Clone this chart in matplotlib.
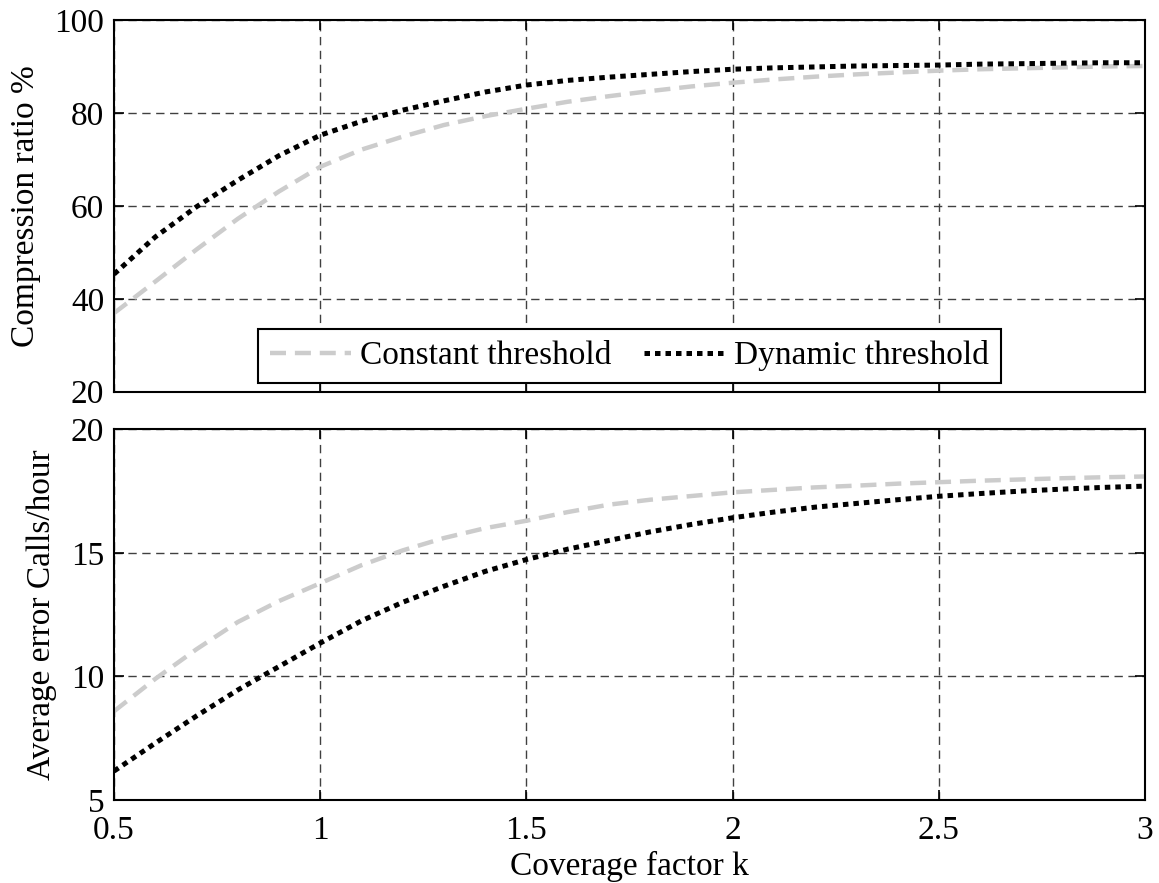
import matplotlib
matplotlib.use("Agg")
import matplotlib.pyplot as plt

plt.rcParams["font.family"] = ["Liberation Serif", "DejaVu Serif"]
plt.rcParams["mathtext.fontset"] = "stix"

# Coverage factor k
k = [0.5, 0.6, 0.7, 0.8, 0.9, 1.0, 1.1, 1.2, 1.3, 1.4, 1.5, 1.6, 1.7,
     1.8, 1.9, 2.0, 2.1, 2.2, 2.3, 2.4, 2.5, 2.6, 2.7, 2.8, 2.9, 3.0]

# Compression ratio (%)
ratio_constant = [36.9, 43.7, 50.6, 57.2, 63.1, 68.4, 72.1, 74.9, 77.4, 79.3,
                  80.9, 82.4, 83.6, 84.7, 85.7, 86.5, 87.2, 87.8, 88.3, 88.7,
                  89.1, 89.4, 89.6, 89.8, 90.0, 90.1]
ratio_dynamic = [45.3, 53.3, 59.8, 65.5, 70.8, 75.2, 78.2, 80.6, 82.6, 84.5,
                 86.0, 87.0, 87.7, 88.3, 88.9, 89.4, 89.7, 89.9, 90.1, 90.2,
                 90.3, 90.5, 90.6, 90.7, 90.8, 90.8]

# Average error (calls/hour)
error_constant = [8.59, 9.9, 11.1, 12.2, 13.05, 13.77, 14.5, 15.1, 15.6, 16.0,
                  16.3, 16.65, 16.95, 17.15, 17.3, 17.45, 17.55, 17.65, 17.72,
                  17.8, 17.86, 17.92, 17.97, 18.02, 18.06, 18.09]
error_dynamic = [6.17, 7.3, 8.4, 9.45, 10.4, 11.35, 12.25, 13.0, 13.65, 14.25,
                 14.73, 15.15, 15.5, 15.85, 16.15, 16.42, 16.65, 16.85, 17.0,
                 17.15, 17.29, 17.4, 17.5, 17.58, 17.65, 17.70]

labels = ["Constant threshold", "Dynamic threshold"]
x_ticks = [0.5, 1, 1.5, 2, 2.5, 3]
x_ticklabels = ["0.5", "1", "1.5", "2", "2.5", "3"]

FS = 24
W, H = 1159, 883
fig = plt.figure(figsize=(W / 100, H / 100), dpi=100)

def frac(l, t, r, b):
    return [l / W, 1 - b / H, (r - l) / W, (b - t) / H]

ax1 = fig.add_axes(frac(114, 20, 1145, 391.7))
ax2 = fig.add_axes(frac(114, 429.3, 1145, 800))

def draw(ax, yc, yd):
    lc, = ax.plot(k, yc, color="#cccccc", lw=3.2, label=labels[0],
                  solid_capstyle="butt", dash_capstyle="butt")
    lc.set_dashes((3.6, 2.0))
    ld, = ax.plot(k, yd, color="black", lw=3.6, label=labels[1],
                  dash_capstyle="butt")
    ld.set_dashes((1.1, 1.0))
    ax.set_xlim(0.5, 3)
    ax.set_xticks(x_ticks)
    ax.grid(True, color="0.25", linestyle=(0, (6, 4)), linewidth=1.0)
    ax.tick_params(direction="in", top=True, right=True, length=7,
                   width=1.2, labelsize=FS, color="black")
    ax.tick_params(axis="y", pad=7)
    ax.tick_params(axis="x", pad=11)
    for s in ax.spines.values():
        s.set_linewidth(1.5)
    return lc, ld

handles = draw(ax1, ratio_constant, ratio_dynamic)
draw(ax2, error_constant, error_dynamic)

ax1.set_ylim(20, 100)
ax1.set_yticks([20, 40, 60, 80, 100])
ax1.set_xticklabels([])
ax1.set_ylabel("Compression ratio %", fontsize=FS, labelpad=10)

ax2.set_ylim(5, 20)
ax2.set_yticks([5, 10, 15, 20])
ax2.set_xticklabels(x_ticklabels)
ax2.set_ylabel("Average error Calls/hour", fontsize=FS, labelpad=10)
ax2.set_xlabel("Coverage factor k", fontsize=FS, labelpad=4)

leg = ax1.legend(handles=list(handles), loc="lower center",
                 bbox_to_anchor=(0.5, 0.023), ncol=2, fontsize=FS,
                 frameon=True, fancybox=False, handlelength=2.45,
                 handletextpad=0.25, columnspacing=1.0, borderpad=0.35,
                 borderaxespad=0.0)
leg.get_frame().set_edgecolor("black")
leg.get_frame().set_linewidth(1.5)
leg.get_frame().set_alpha(1)

fig.savefig("out.png", dpi=100)
